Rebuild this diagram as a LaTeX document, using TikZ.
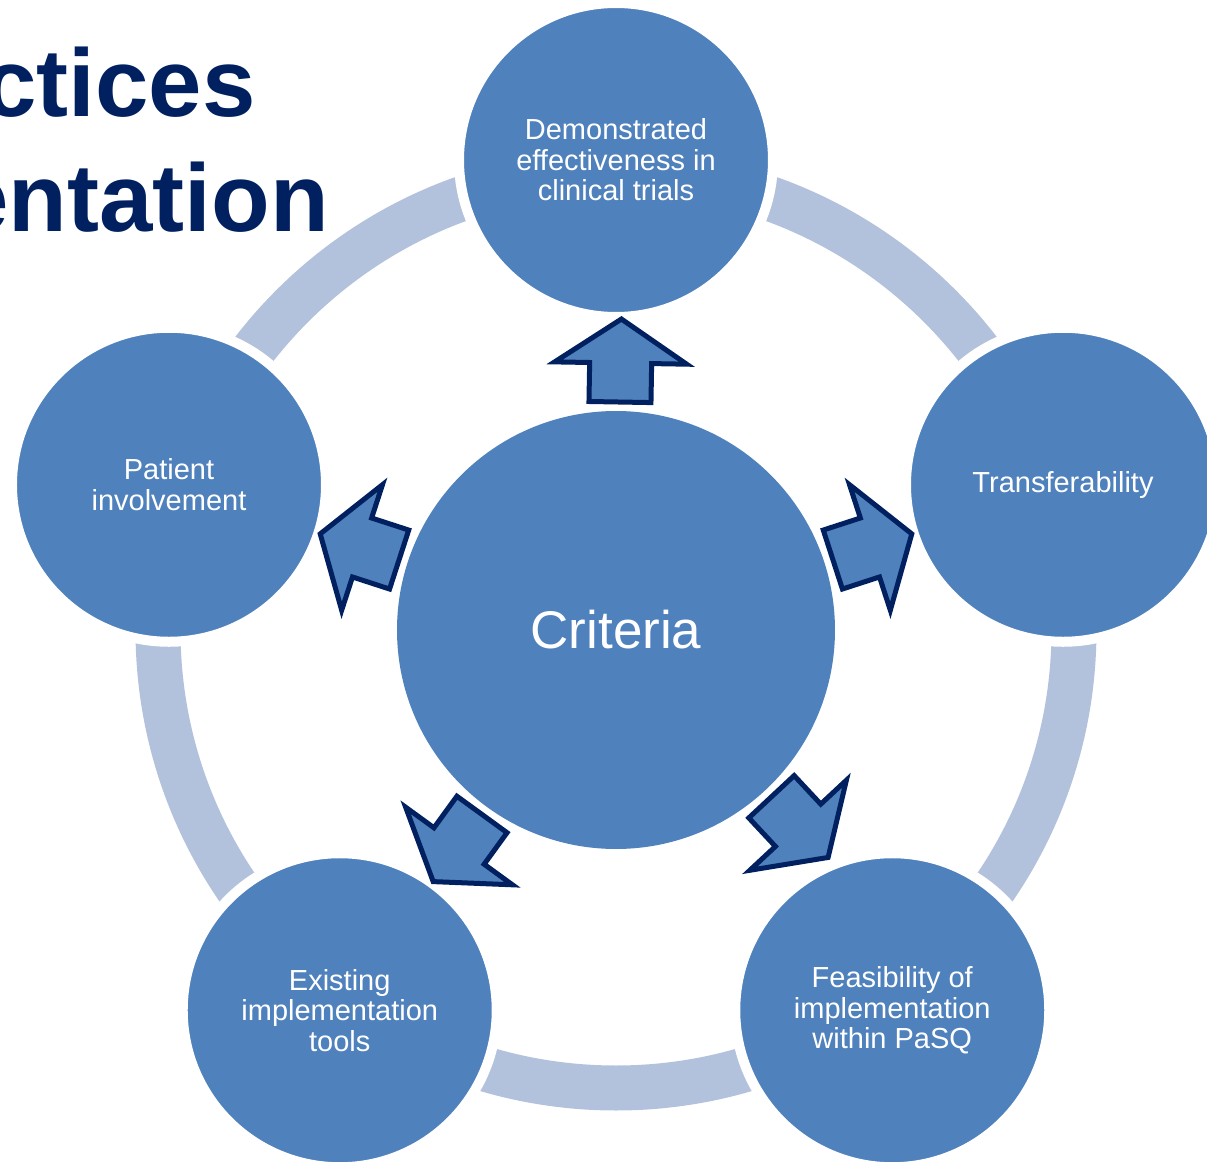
\documentclass[tikz,border=0pt]{standalone}
\usepackage{fontspec}
\setmainfont{Liberation Sans}

\definecolor{circblue}{HTML}{4F81BD}
\definecolor{ringblue}{HTML}{B3C2DC}
\definecolor{navy}{HTML}{002060}

\tikzset{
  outer/.style={circle, fill=circblue, draw=white, line width=7.5pt,
    minimum size=235.5pt, inner sep=0pt, align=center, text=white,
    font=\fontsize{21.75}{22.9}\selectfont},
  hub/.style={circle, fill=circblue, minimum size=328.5pt, inner sep=0pt,
    text=white, font=\fontsize{39.75}{44}\selectfont},
  blockarrow/.style={fill=circblue, draw=navy, line width=3.75pt},
  title/.style={anchor=base east, inner sep=0pt, text=navy,
    font=\fontsize{72}{86}\selectfont\bfseries},
}

\begin{document}
\begin{tikzpicture}[x=0.75pt,y=0.75pt]

\useasboundingbox (-616,-534) rectangle (591,630);

% heading, cut at the left edge
\node[title] (head1) at (-360,513) {ctices};
\node[title] (head2) at (-287,398) {entation};

% ring behind the circles
\draw[ringblue, line width=33.75pt] (0,0) circle (458);

\node[hub] (crit) at (0,0) {Criteria};

\foreach \a/\n/\t in {90/trials/{Demonstrated\\effectiveness in\\clinical trials},
                      18/transfer/{Transferability},
                      -54/feas/{Feasibility of\\implementation\\within PaSQ},
                      -126/tools/{Existing\\implementation\\tools},
                      162/patient/{Patient\\involvement}}
    \node[outer] (\n) at (\a:470) {\t};

% block arrows out of the centre
\foreach \a in {89,18,-47,-126,162}
    \draw[blockarrow, rotate=\a] (228,-31) -- (267,-31) -- (267,-66) -- (311,0)
        -- (267,66) -- (267,31) -- (228,31) -- cycle;

\end{tikzpicture}
\end{document}
